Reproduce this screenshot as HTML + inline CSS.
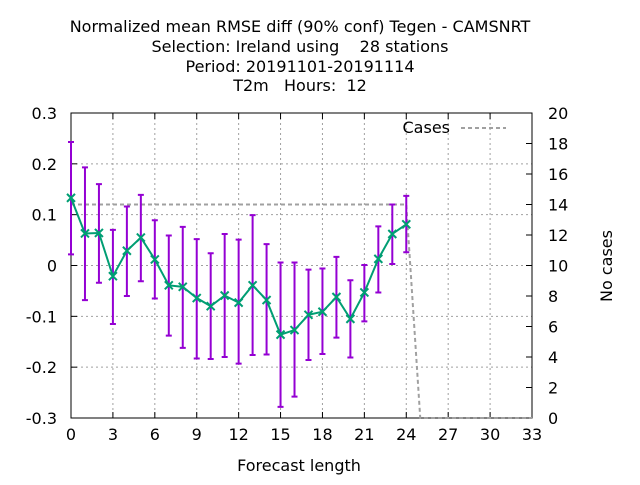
<!DOCTYPE html>
<html><head><meta charset="utf-8"><style>
body{margin:0;background:#fff}
svg text{font-family:"DejaVu Sans","Liberation Sans",sans-serif;fill:#000}
</style></head><body>
<svg id="c" width="640" height="480" xmlns="http://www.w3.org/2000/svg">
<g font-size="16" text-anchor="middle">
<text x="300" y="32">Normalized mean RMSE diff (90% conf) Tegen - CAMSNRT</text>
<text x="300" y="52" xml:space="preserve">Selection: Ireland using    28 stations</text>
<text x="300" y="72">Period: 20191101-20191114</text>
<text x="300" y="91" xml:space="preserve">T2m   Hours:  12</text>
</g>
<g id="grid"></g><g id="axes"></g><g id="marks"></g>
<text x="299" y="471" font-size="16" text-anchor="middle">Forecast length</text>
<text transform="translate(612,266) rotate(-90)" font-size="16" text-anchor="middle">No cases</text>
<g>
<text x="450" y="133" font-size="16" text-anchor="end">Cases</text>
<line x1="461" y1="128" x2="506" y2="128" stroke="#a0a0a0" stroke-width="2" stroke-dasharray="4,3"/>
</g>
</svg>
<script>
const hours=[0,1,2,3,4,5,6,7,8,9,10,11,12,13,14,15,16,17,18,19,20,21,22,23,24];
const meanVals=[0.133,0.063,0.064,-0.021,0.029,0.055,0.012,-0.039,-0.042,-0.064,-0.080,-0.059,-0.073,-0.039,-0.068,-0.136,-0.127,-0.097,-0.091,-0.062,-0.105,-0.053,0.013,0.062,0.081];
const hiVals=[0.243,0.193,0.160,0.070,0.116,0.139,0.089,0.059,0.076,0.052,0.024,0.062,0.051,0.099,0.042,0.006,0.006,-0.008,-0.006,0.017,-0.029,0.001,0.077,0.120,0.137];
const loVals=[0.022,-0.068,-0.034,-0.115,-0.060,-0.031,-0.065,-0.138,-0.162,-0.183,-0.184,-0.180,-0.193,-0.176,-0.175,-0.278,-0.258,-0.186,-0.174,-0.142,-0.181,-0.110,-0.053,0.003,0.026];
const caseHours=[0,1,2,3,4,5,6,7,8,9,10,11,12,13,14,15,16,17,18,19,20,21,22,23,24,25,26,27,28,29,30,31,32,33];
const caseVals=[14,14,14,14,14,14,14,14,14,14,14,14,14,14,14,14,14,14,14,14,14,14,14,14,14,0,0,0,0,0,0,0,0,0];
const xTicks=[0,3,6,9,12,15,18,21,24,27,30,33];
const yTicks=[-0.3,-0.2,-0.1,0,0.1,0.2,0.3];
const y2Ticks=[0,2,4,6,8,10,12,14,16,18,20];
const L=71,R=532,T=113,B=418;
const X=h=>L+(h-0)/(33-0)*(R-L);
const Y=v=>B-(v+0.3)/0.6*(B-T);
const Y2=v=>B-v/20*(B-T);
const NS='http://www.w3.org/2000/svg';
function mk(p,tag,a){const e=document.createElementNS(NS,tag);for(const k in a)e.setAttribute(k,a[k]);document.getElementById(p).appendChild(e);return e;}
xTicks.forEach(t=>{
 if(t>0&&t<33){const g=mk('grid','line',{x1:X(t),x2:X(t),y1:T,y2:B,stroke:'#a0a0a0','stroke-dasharray':'2,3'});
 
 }
 mk('axes','line',{x1:X(t),x2:X(t),y1:B,y2:B-6,stroke:'#000'});
 mk('axes','line',{x1:X(t),x2:X(t),y1:T,y2:T+6,stroke:'#000'});
 const tx=mk('axes','text',{x:X(t),y:B+22,'font-size':'16','text-anchor':'middle'});tx.textContent=t;
 
 
});
yTicks.forEach(t=>{
 if(t>-0.3&&t<0.3){const g=mk('grid','line',{x1:L,x2:R,y1:Y(t),y2:Y(t),stroke:'#a0a0a0','stroke-dasharray':'2,3'});
 
 }
 mk('axes','line',{x1:L,x2:L+6,y1:Y(t),y2:Y(t),stroke:'#000'});
 const tx=mk('axes','text',{x:L-14,y:Y(t)+6,'font-size':'16','text-anchor':'end'});tx.textContent=(t===0?'0':(Math.round(t*10)/10).toString());
 
 
});
y2Ticks.forEach(t=>{
 mk('axes','line',{x1:R,x2:R-6,y1:Y2(t),y2:Y2(t),stroke:'#000'});
 const tx=mk('axes','text',{x:R+16,y:Y2(t)+6,'font-size':'16','text-anchor':'start'});tx.textContent=t;
 
 
});
const box=mk('axes','rect',{x:L,y:T,width:R-L,height:B-T,fill:'none',stroke:'#000'});


const cl=mk('marks','polyline',{points:caseHours.map((h,i)=>X(h)+','+Y2(caseVals[i])).join(' '),fill:'none',stroke:'#a0a0a0','stroke-width':2,'stroke-dasharray':'4,3'});


hours.forEach((h,i)=>{
 const x=X(h);
 const e=mk('marks','path',{d:`M${x},${Y(loVals[i])}V${Y(hiVals[i])}M${x-3},${Y(loVals[i])}h6M${x-3},${Y(hiVals[i])}h6`,stroke:'#9400d3','stroke-width':2,fill:'none'});
 
 
});
const ml=mk('marks','polyline',{points:hours.map((h,i)=>X(h)+','+Y(meanVals[i])).join(' '),fill:'none',stroke:'#009e73','stroke-width':2});


hours.forEach((h,i)=>{
 const x=X(h),y=Y(meanVals[i]);
 const p=mk('marks','path',{d:`M${x-4},${y-4}L${x+4},${y+4}M${x-4},${y+4}L${x+4},${y-4}`,stroke:'#009e73','stroke-width':2});
 
 
});
</script>
</body></html>
